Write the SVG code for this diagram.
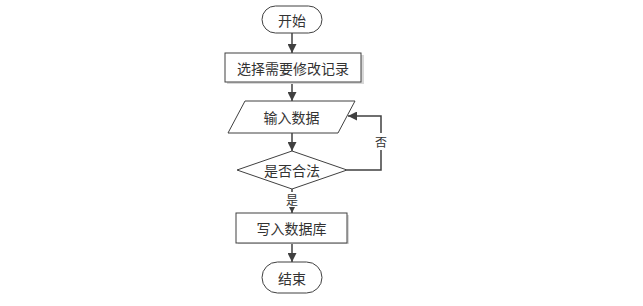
<svg xmlns="http://www.w3.org/2000/svg" width="643" height="306" viewBox="0 0 643 306">
<style>
.shape{fill:#fff;stroke:#404040;stroke-width:1}
.shadow{fill:#d8d8d8;stroke:none}
.conn{fill:none;stroke:#404040;stroke-width:1.5}
.lbl{font-family:"Noto Sans CJK SC",sans-serif;font-size:14px;fill:#333;text-anchor:middle;dominant-baseline:central}
.small{font-size:12px}
</style>
<defs>
<marker id="arr" viewBox="0 0 10 10" refX="10" refY="5" markerWidth="6" markerHeight="6" markerUnits="userSpaceOnUse" orient="auto">
<path d="M0,0 L10,5 L0,10 z" fill="#404040"/>
</marker>
<marker id="arrB" viewBox="0 0 10 10" refX="10" refY="5" markerWidth="9" markerHeight="9" markerUnits="userSpaceOnUse" orient="auto">
<path d="M0,0 L10,5 L0,10 z" fill="#404040"/>
</marker>
</defs>
<rect width="643" height="306" fill="#fff"/>
<g id="connectors">
<line class="conn" x1="292" y1="33" x2="292" y2="53" marker-end="url(#arrB)"/>
<line class="conn" x1="292" y1="82" x2="292" y2="101" marker-end="url(#arrB)"/>
<line class="conn" x1="292" y1="133" x2="292" y2="151" marker-end="url(#arrB)"/>
<polyline class="conn" points="347,170 381,170 381,116 348,116" marker-end="url(#arrB)"/>
<line class="conn" x1="292" y1="189" x2="292" y2="213" marker-end="url(#arr)"/>
<line class="conn" x1="292" y1="243" x2="292" y2="262" marker-end="url(#arrB)"/>
<rect x="373" y="133" width="16" height="17" fill="#fff"/>
<text class="lbl small" x="381" y="141.5">否</text>
<rect x="284" y="192" width="16" height="15" fill="#fff"/>
<text class="lbl small" x="292" y="199.5">是</text>
</g>
<g id="start">
<rect class="shape" x="262" y="6" width="60" height="27" rx="13.5" ry="13.5"/>
<text class="lbl" x="292" y="19.5">开始</text>
</g>
<g id="select">
<rect class="shadow" x="227" y="55" width="137" height="29"/>
<rect class="shape" x="225" y="53" width="136" height="29"/>
<text class="lbl" x="293" y="67.5">选择需要修改记录</text>
</g>
<g id="input">
<polygon class="shape" points="245,101 355,101 338,133 228,133"/>
<text class="lbl" x="291.5" y="117">输入数据</text>
</g>
<g id="check">
<polygon class="shape" points="292,151 347,170 292,189 237,170"/>
<text class="lbl" x="292" y="170">是否合法</text>
</g>
<g id="write">
<rect class="shadow" x="238" y="215" width="111" height="29"/>
<rect class="shape" x="236" y="213" width="111" height="30"/>
<text class="lbl" x="291.5" y="228">写入数据库</text>
</g>
<g id="end">
<rect class="shape" x="262" y="262" width="60" height="31" rx="15.5" ry="15.5"/>
<text class="lbl" x="292" y="277.5">结束</text>
</g>
</svg>
